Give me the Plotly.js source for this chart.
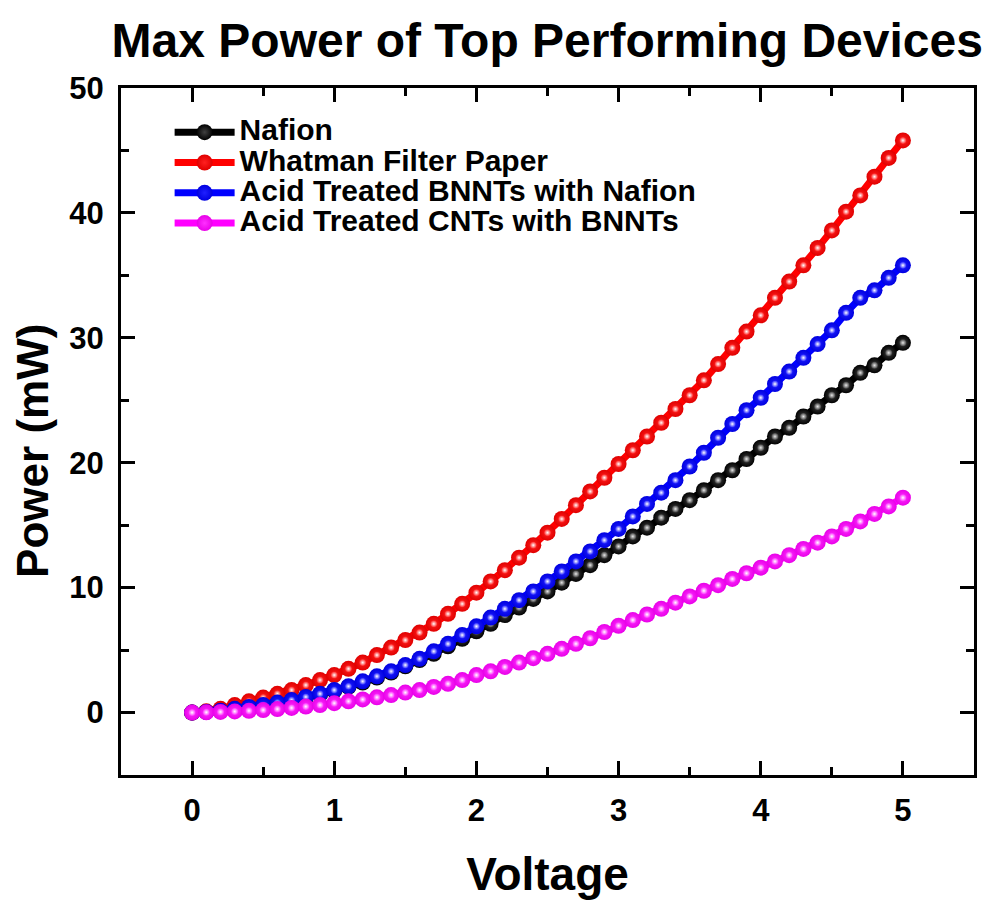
<!DOCTYPE html>
<html>
<head>
<meta charset="utf-8">
<script src="https://cdn.plot.ly/plotly-3.0.1.min.js"></script>
<style>html,body{margin:0;padding:0;background:#fff;}#chart{width:995px;height:900px;}</style>
</head>
<body>
<div id="chart"></div>
<script>
// Voltage values (V)
var voltage = [0.0,0.1,0.2,0.3,0.4,0.5,0.6,0.7,0.8,0.9,1.0,1.1,1.2,1.3,1.4,1.5,1.6,1.7,1.8,1.9,2.0,2.1,2.2,2.3,2.4,2.5,2.6,2.7,2.8,2.9,3.0,3.1,3.2,3.3,3.4,3.5,3.6,3.7,3.8,3.9,4.0,4.1,4.2,4.3,4.4,4.5,4.6,4.7,4.8,4.9,5.0];

// Power (mW)
var nafion = [0,0.05,0.15,0.3,0.45,0.6,0.8,1.0,1.2,1.45,1.75,2.05,2.4,2.8,3.2,3.7,4.2,4.7,5.3,5.9,6.5,7.1,7.8,8.4,9.1,9.7,10.4,11.1,11.8,12.6,13.3,14.1,14.8,15.6,16.3,17.0,17.8,18.6,19.4,20.3,21.2,22.1,22.8,23.7,24.5,25.4,26.2,27.2,27.8,28.8,29.6];
var whatman = [0,0.1,0.3,0.6,0.9,1.2,1.5,1.8,2.2,2.6,3.0,3.5,4.0,4.6,5.2,5.8,6.4,7.1,7.9,8.7,9.6,10.5,11.4,12.4,13.4,14.4,15.5,16.6,17.7,18.8,19.9,21.0,22.1,23.2,24.3,25.4,26.6,27.9,29.2,30.5,31.8,33.2,34.5,35.8,37.2,38.6,40.1,41.4,42.9,44.4,45.8];
var bnntNafion = [0,0.05,0.15,0.3,0.45,0.6,0.8,1.0,1.25,1.5,1.8,2.1,2.5,2.9,3.3,3.8,4.3,4.9,5.5,6.2,6.9,7.6,8.3,9.0,9.7,10.5,11.3,12.1,12.9,13.8,14.7,15.7,16.7,17.6,18.6,19.7,20.8,22.0,23.1,24.2,25.2,26.3,27.3,28.4,29.5,30.6,32.0,33.2,33.8,34.8,35.8];
var cntBnnt = [0,0.02,0.05,0.09,0.14,0.2,0.28,0.37,0.48,0.6,0.75,0.9,1.05,1.22,1.4,1.6,1.8,2.05,2.3,2.6,3.0,3.3,3.65,4.0,4.35,4.7,5.1,5.5,5.95,6.45,6.95,7.4,7.85,8.3,8.8,9.3,9.75,10.2,10.7,11.15,11.6,12.1,12.6,13.1,13.6,14.1,14.7,15.3,15.9,16.5,17.2];

var seriesNames = ['Nafion','Whatman Filter Paper','Acid Treated BNNTs with Nafion','Acid Treated CNTs with BNNTs'];
var seriesValues = [nafion, whatman, bnntNafion, cntBnnt];
var seriesColors = ['#000000','#ff0000','#0000ff','#ff00ff'];
var edgeColors = ['#000000','#e00000','#0000e0','#e800e8'];
var centerColors = ['#404040','#ff2020','#2020ff','#ff30ff'];
var highlightColors = ['#e8e8e8','#ffffff','#ffffff','#ffffff'];

var FONT = 'Liberation Sans, Arial, Helvetica, sans-serif';
var traces = [];
for (var i = 0; i < seriesNames.length; i++) {
  traces.push({
    type: 'scatter', mode: 'lines+markers',
    x: voltage, y: seriesValues[i],
    name: '<span style="font-size:30px">' + seriesNames[i] + '</span>',
    legendgroup: 'g' + i,
    line: {color: seriesColors[i], width: 7},
    marker: {size: 16, color: edgeColors[i], line: {width: 0},
             gradient: {type: 'radial', color: centerColors[i]}},
    hoverinfo: 'x+y'
  });
  traces.push({
    type: 'scatter', mode: 'markers',
    x: voltage, y: seriesValues[i],
    legendgroup: 'g' + i, showlegend: false,
    marker: {size: 7, color: centerColors[i], line: {width: 0},
             gradient: {type: 'radial', color: highlightColors[i]}},
    hoverinfo: 'skip'
  });
}

var axisCommon = {
  showline: true, linecolor: '#000', linewidth: 3, mirror: 'ticks',
  ticks: 'inside', ticklen: 14, tickwidth: 3, tickcolor: '#000',
  showgrid: false, zeroline: false,
  tickfont: {family: FONT, size: 31, color: '#000', weight: 'bold'}
};

var layout = {
  width: 995, height: 900,
  paper_bgcolor: '#fff', plot_bgcolor: '#fff',
  margin: {l: 121, r: 21, t: 88, b: 125},
  title: {text: 'Max Power of Top Performing Devices',
          font: {family: FONT, size: 48, color: '#000', weight: 'bold'},
          x: 0.55, xanchor: 'center', y: 0.955, yanchor: 'middle', yref: 'container'},
  xaxis: Object.assign({}, axisCommon, {
    range: [-0.5, 5.5], dtick: 1, tick0: 0,
    minor: {dtick: 0.5, ticks: 'inside', ticklen: 8, tickwidth: 3, tickcolor: '#000'},
    ticklabelstandoff: 6,
    title: {text: 'Voltage', font: {family: FONT, size: 46, color: '#000', weight: 'bold'}, standoff: 34}
  }),
  yaxis: Object.assign({}, axisCommon, {
    range: [-5, 50], dtick: 10, tick0: 0,
    minor: {dtick: 5, ticks: 'inside', ticklen: 8, tickwidth: 3, tickcolor: '#000'},
    ticklabelstandoff: 8
  }),
  annotations: [{
    text: 'Power (mW)', textangle: -90, showarrow: false,
    xref: 'paper', yref: 'paper', x: -0.103, y: 0.472,
    xanchor: 'center', yanchor: 'middle',
    font: {family: FONT, size: 44, color: '#000', weight: 'bold'}
  }],
  legend: {x: 0.057, y: 0.965, xanchor: 'left', yanchor: 'top',
           bgcolor: 'rgba(0,0,0,0)', borderwidth: 0,
           font: {family: FONT, size: 21, color: '#000', weight: 'bold'},
           itemwidth: 60, tracegroupgap: 0},
  showlegend: true
};

Plotly.newPlot('chart', traces, layout, {displayModeBar: false, staticPlot: true});
</script>
</body>
</html>
